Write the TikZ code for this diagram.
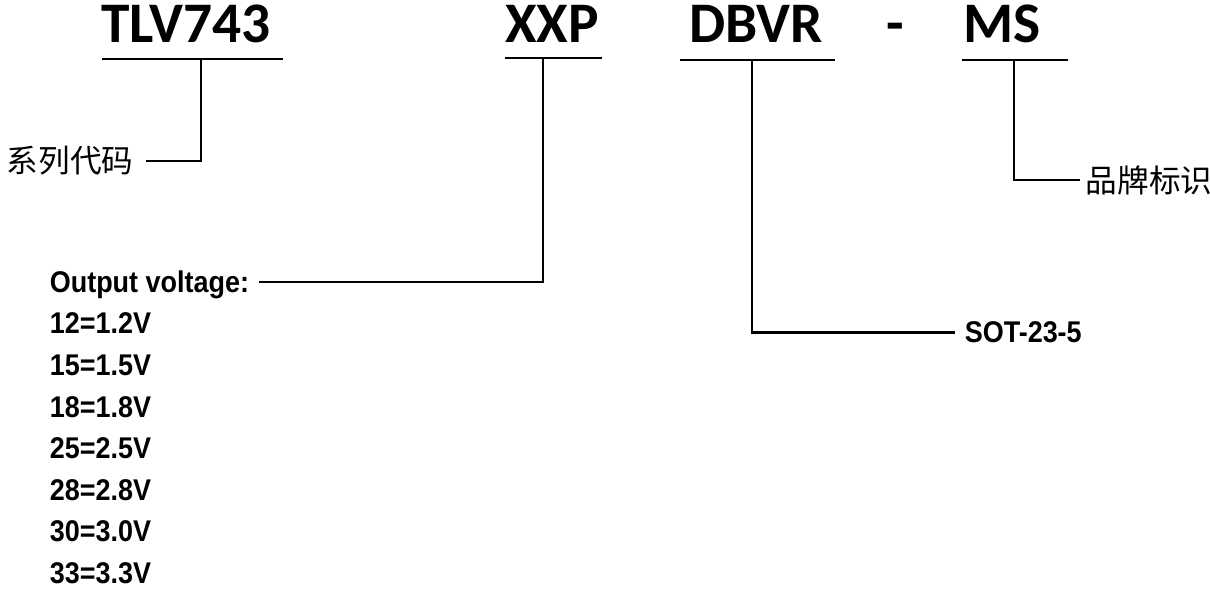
\documentclass[tikz,border=0pt]{standalone}
\usepackage{fontspec}
\newfontfamily\specfont{Liberation Sans}[FakeStretch=0.9]
\newfontfamily\partfont{Carlito}
\newfontfamily\cjkfont{Noto Sans CJK SC}
\tikzset{
  part/.style={font=\partfont\bfseries\fontsize{40.8}{42}\selectfont, inner sep=0pt, anchor=base},
  spec/.style={font=\specfont\bfseries\fontsize{21.3}{23}\selectfont, inner sep=0pt, outer sep=7pt, text depth=0pt, anchor=base west},
  cjk/.style={font=\cjkfont\fontsize{22.5}{24}\selectfont, inner sep=0pt},
  bar/.style={line width=1.7pt},
  lead/.style={line width=1.5pt}
}

\begin{document}
\begin{tikzpicture}[x=0.025cm,y=-0.025cm]
  \useasboundingbox (0,0) rectangle (1210,590);

  % part number fields
  \node[part] (tlv) at (186,43) {TLV743};
  \node[part] (xxp) at (552,43) {XXP};
  \node[part] (dbvr) at (756,43) {DBVR};
  \node[part] (dash) at (895,43) {-};
  \node[part] (ms) at (1002,43) {MS};

  % underlines
  \draw[bar] (102,59) -- (283,59);
  \draw[bar] (505,58) -- (602,58);
  \draw[bar] (680,60) -- (835,60);
  \draw[bar] (962,60) -- (1068,60);

  % taps on the underlines
  \coordinate (tlvtap) at (201,59);
  \coordinate (xxptap) at (543,58);
  \coordinate (dbvrtap) at (752,60);
  \coordinate (mstap) at (1014,60);

  % descriptions
  \node[cjk, outer sep=9pt] (series) at (70,161) {系列代码};
  \node[cjk, outer sep=4pt] (brand) at (1149,180) {品牌标识};
  \node[spec] (volt) at (40,293) {Output voltage:};
  \node[spec] (pkg) at (955,343) {SOT-23-5};

  % voltage codes
  \node[spec] (v12) at (40,334) {12=1.2V};
  \node[spec] (v15) at (40,375) {15=1.5V};
  \node[spec] (v18) at (40,417) {18=1.8V};
  \node[spec] (v25) at (40,458) {25=2.5V};
  \node[spec] (v28) at (40,500) {28=2.8V};
  \node[spec] (v30) at (40,541) {30=3.0V};
  \node[spec] (v33) at (40,583) {33=3.3V};

  % leaders
  \draw[lead] (tlvtap) |- (series.east);
  \draw[lead] (xxptap) |- (volt.east);
  \draw[lead] (dbvrtap) |- (pkg.west);
  \draw[lead] (mstap) |- (brand.west);

\end{tikzpicture}
\end{document}
